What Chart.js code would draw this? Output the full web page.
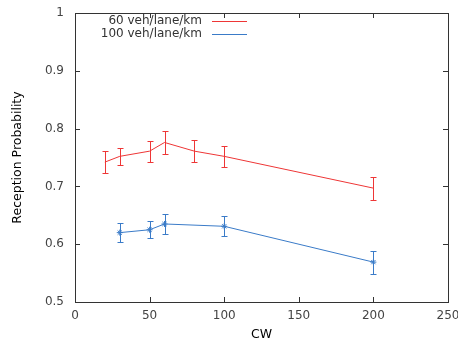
<!DOCTYPE html>
<html>
<head>
<meta charset="utf-8">
<script src="https://cdn.jsdelivr.net/npm/chart.js@4"></script>
<style>
  html, body { margin: 0; padding: 0; background: #fff; }
  #wrap { width: 458px; height: 345px; }
</style>
</head>
<body>
<div id="wrap"><canvas id="plot" width="458" height="345"></canvas></div>
<script>
// data
const cw60 = [20, 30, 50, 60, 80, 100, 200];
const prob60 = [0.742, 0.752, 0.761, 0.776, 0.761, 0.752, 0.697];
const err60 = [0.019, 0.015, 0.018, 0.020, 0.019, 0.018, 0.020];

const cw100 = [30, 50, 60, 100, 200];
const prob100 = [0.620, 0.625, 0.635, 0.631, 0.569];
const err100 = [0.016, 0.015, 0.017, 0.017, 0.020];

const xTicks = [0, 50, 100, 150, 200, 250];
const yTicks = [0.5, 0.6, 0.7, 0.8, 0.9, 1];

const RED = '#ee3636';
const BLUE = '#3a7bc8';
const FONT = '"DejaVu Sans", Verdana, sans-serif';

function toPoints(xs, ys) {
  return xs.map((x, i) => ({ x: x, y: ys[i] }));
}

// error bars, axis box with inward ticks, axis titles and the key
const gnuplotLook = {
  id: 'gnuplotLook',
  afterDatasetsDraw(chart) {
    const ctx = chart.ctx;
    const xs = chart.scales.x, ys = chart.scales.y;
    const a = chart.chartArea;
    ctx.save();

    // error bars
    chart.data.datasets.forEach(ds => {
      ctx.strokeStyle = ds.borderColor;
      ctx.lineWidth = 1;
      ds.data.forEach((p, i) => {
        const e = ds.errors[i];
        const px = Math.round(xs.getPixelForValue(p.x)) + 0.5;
        const top = Math.round(ys.getPixelForValue(p.y + e)) + 0.5;
        const bot = Math.round(ys.getPixelForValue(p.y - e)) + 0.5;
        ctx.beginPath();
        ctx.moveTo(px, top); ctx.lineTo(px, bot);
        ctx.moveTo(px - 3, top); ctx.lineTo(px + 3, top);
        ctx.moveTo(px - 3, bot); ctx.lineTo(px + 3, bot);
        ctx.stroke();
      });
    });

    // frame
    ctx.strokeStyle = '#333';
    ctx.lineWidth = 1;
    ctx.strokeRect(Math.round(a.left) + 0.5, Math.round(a.top) + 0.5,
                   Math.round(a.right - a.left), Math.round(a.bottom - a.top));

    // inward ticks on all four sides
    ctx.beginPath();
    xTicks.forEach(v => {
      const px = Math.round(xs.getPixelForValue(v)) + 0.5;
      ctx.moveTo(px, a.bottom); ctx.lineTo(px, a.bottom - 5);
      ctx.moveTo(px, a.top); ctx.lineTo(px, a.top + 5);
    });
    yTicks.forEach(v => {
      const py = Math.round(ys.getPixelForValue(v)) + 0.5;
      ctx.moveTo(a.left, py); ctx.lineTo(a.left + 5, py);
      ctx.moveTo(a.right, py); ctx.lineTo(a.right - 5, py);
    });
    ctx.stroke();

    // axis titles
    ctx.fillStyle = '#000';
    ctx.font = '12.5px ' + FONT;
    ctx.textAlign = 'center';
    ctx.textBaseline = 'middle';
    ctx.fillText('CW', (a.left + a.right) / 2, 335);
    ctx.save();
    ctx.translate(18, (a.top + a.bottom) / 2);
    ctx.rotate(-Math.PI / 2);
    ctx.fillText('Reception Probability', 0, 0);
    ctx.restore();

    // key
    ctx.font = '12px ' + FONT;
    ctx.textAlign = 'right';
    ctx.fillStyle = '#333';
    [[ '60 veh/lane/km', RED ], [ '100 veh/lane/km', BLUE ]].forEach((k, i) => {
      const y = 21 + i * 13;
      ctx.fillText(k[0], 202, y);
      ctx.strokeStyle = k[1];
      ctx.beginPath();
      ctx.moveTo(212, y + 0.5); ctx.lineTo(247, y + 0.5);
      ctx.stroke();
    });

    ctx.restore();
  }
};

new Chart(document.getElementById('plot'), {
  type: 'line',
  data: {
    datasets: [
      {
        label: '60 veh/lane/km',
        data: toPoints(cw60, prob60),
        errors: err60,
        borderColor: RED,
        backgroundColor: RED,
        borderWidth: 1,
        pointRadius: 0,
        tension: 0
      },
      {
        label: '100 veh/lane/km',
        data: toPoints(cw100, prob100),
        errors: err100,
        borderColor: BLUE,
        backgroundColor: BLUE,
        borderWidth: 1,
        pointStyle: 'star',
        pointRadius: 3,
        pointBorderWidth: 1,
        tension: 0
      }
    ]
  },
  options: {
    responsive: false,
    animation: false,
    events: [],
    layout: { padding: { top: 13, right: 10, left: 0, bottom: 0 } },
    plugins: { legend: { display: false }, tooltip: { enabled: false } },
    scales: {
      x: {
        type: 'linear',
        min: 0, max: 250,
        afterBuildTicks: s => { s.ticks = xTicks.map(v => ({ value: v })); },
        afterFit: s => { s.height = 43; s.paddingLeft = 0; s.paddingRight = 0; },
        grid: { display: false, drawTicks: false },
        border: { display: false },
        ticks: { padding: 7, color: '#444', font: { family: FONT, size: 12 }, maxRotation: 0 }
      },
      y: {
        type: 'linear',
        min: 0.5, max: 1,
        afterBuildTicks: s => { s.ticks = yTicks.map(v => ({ value: v })); },
        afterFit: s => { s.width = 75; s.paddingTop = 0; s.paddingBottom = 0; },
        grid: { display: false, drawTicks: false },
        border: { display: false },
        ticks: {
          padding: 11, color: '#444', font: { family: FONT, size: 12 },
          callback: v => String(v)
        }
      }
    }
  },
  plugins: [gnuplotLook]
});
</script>
</body>
</html>
